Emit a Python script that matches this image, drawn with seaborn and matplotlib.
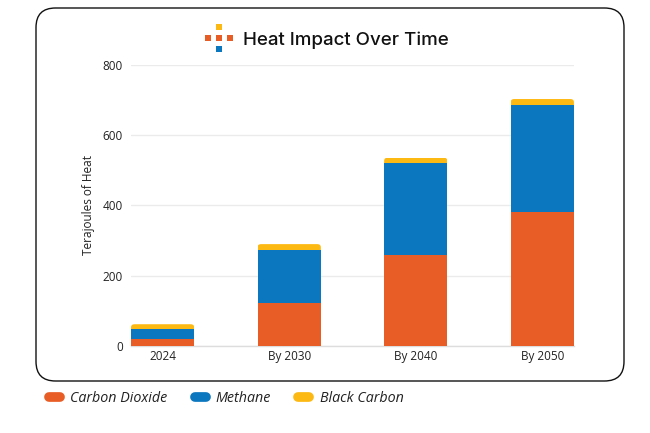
import matplotlib
matplotlib.use("Agg")
import matplotlib.pyplot as plt
from matplotlib.patches import FancyBboxPatch, Rectangle
from matplotlib.lines import Line2D
import seaborn as sns
import pandas as pd

# Дані
categories = ["2024", "By 2030", "By 2040", "By 2050"]
carbon_dioxide = [20, 123, 260, 381]
methane = [27, 151, 260, 305]
black_carbon = [15, 16, 16, 17]

c_co2 = "#E85D26"
c_ch4 = "#0B77BE"
c_bc = "#FDB913"

sns.set_theme(style="white")
plt.rcParams["font.family"] = ["Open Sans", "DejaVu Sans"]

df = pd.DataFrame({"period": categories,
                   "co2": carbon_dioxide,
                   "ch4": methane,
                   "bc": black_carbon})
df["lvl2"] = df["co2"] + df["ch4"]
df["lvl3"] = df["lvl2"] + df["bc"]

fig = plt.figure(figsize=(6.5, 4.33), dpi=100)
ax = fig.add_axes([0.2015, 0.2009, 0.6815, 0.6491])

sns.barplot(data=df, x="period", y="lvl3", color=c_bc, width=0.5,
            saturation=1, ax=ax, zorder=2)
n_top = len(ax.patches)
sns.barplot(data=df, x="period", y="lvl2", color=c_ch4, width=0.5,
            saturation=1, ax=ax, zorder=3)
sns.barplot(data=df, x="period", y="co2", color=c_co2, width=0.5,
            saturation=1, ax=ax, zorder=4)

ax.set_xlim(-0.25, 3.25)
ax.set_ylim(0, 800)
ax.set_yticks([0, 200, 400, 600, 800])

# скруглення верхніх кутів
for p in ax.patches[:n_top]:
    x0, w, h = p.get_x(), p.get_width(), p.get_height()
    clip = FancyBboxPatch((x0, -60), w, h + 60,
                          boxstyle="round,pad=0,rounding_size=0.028",
                          mutation_aspect=330, transform=ax.transData,
                          facecolor="none", edgecolor="none")
    ax.add_patch(clip)
    p.set_clip_path(clip)

for p in ax.patches:
    p.set_edgecolor("none")

ax.grid(axis="y", color="#ebebeb", linewidth=1, zorder=0)
ax.set_axisbelow(True)
for s in ["top", "right", "left"]:
    ax.spines[s].set_visible(False)
ax.spines["bottom"].set_color("#dddddd")
ax.spines["bottom"].set_linewidth(1)
ax.tick_params(axis="both", length=0, labelsize=8.5, colors="#222222")
ax.tick_params(axis="y", pad=6)
ax.tick_params(axis="x", pad=3)
ax.set_xlabel("")
ax.set_ylabel("Terajoules of Heat", fontsize=8.5, color="#222222", labelpad=5)

# рамка
frame = FancyBboxPatch((36 / 650, (433 - 381) / 433), 588 / 650, 373 / 433,
                       boxstyle="round,pad=0,rounding_size=0.03",
                       mutation_aspect=650 / 433,
                       transform=fig.transFigure, facecolor="none",
                       edgecolor="#111111", linewidth=1.0, zorder=0)
fig.patches.append(frame)

# заголовок та значок
fig.text(243 / 650, 1 - 40 / 433, "Heat Impact Over Time", fontsize=13.5,
         fontweight="medium", color="#111111", va="center", ha="left",
         family=["Inter", "DejaVu Sans"])
sq = 6
icon = [(208, 38, c_co2), (219, 38, c_co2), (230, 38, c_co2),
        (219, 27, c_bc), (219, 49, c_ch4)]
for cx, cy, col in icon:
    fig.patches.append(Rectangle(((cx - sq / 2) / 650, 1 - (cy + sq / 2) / 433),
                                 sq / 650, sq / 433, transform=fig.transFigure,
                                 facecolor=col, edgecolor="none"))

# легенда
handles = [Line2D([0], [0], color=c, lw=7, solid_capstyle="round")
           for c in [c_co2, c_ch4, c_bc]]
leg = fig.legend(handles, ["Carbon Dioxide", "Methane", "Black Carbon"],
                 loc="center left", bbox_to_anchor=(49 / 650, 1 - 399 / 433),
                 ncol=3, frameon=False, handlelength=0.78, handletextpad=0.7,
                 columnspacing=1.9, borderaxespad=0, borderpad=0,
                 prop={"size": 10.3, "style": "italic"})
for t in leg.get_texts():
    t.set_color("#222222")

fig.savefig("out.png", dpi=100)
